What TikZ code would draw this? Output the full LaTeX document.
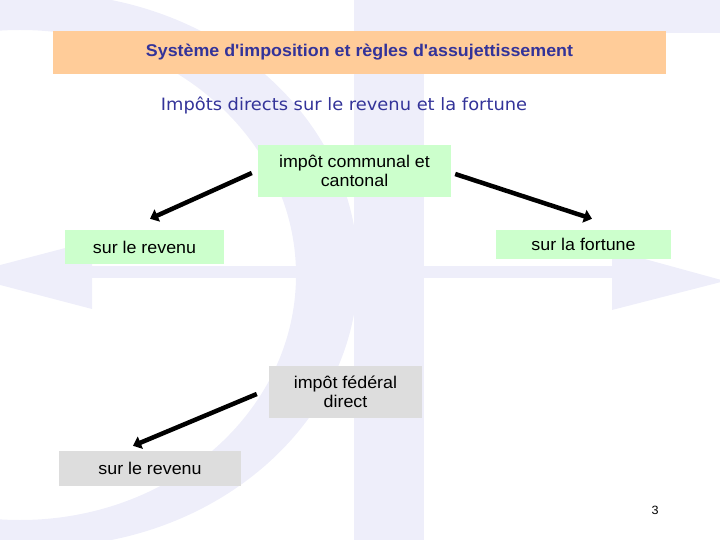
\documentclass[tikz,border=0pt]{standalone}
\usepackage{fontspec}
\setmainfont{Liberation Sans}
\newfontfamily\boxfont[FakeStretch=1.05]{Liberation Sans}
\newfontfamily\subfont[FakeStretch=1.05]{DejaVu Sans}
\usepackage{tikz}
\usetikzlibrary{arrows.meta}
\definecolor{figBg}{RGB}{238,238,250}
\definecolor{figT}{RGB}{51,51,153}
\definecolor{figO}{RGB}{255,204,153}
\definecolor{figG}{RGB}{204,255,204}
\definecolor{figK}{RGB}{221,221,221}
\tikzset{taxbox/.style={inner sep=0pt, align=center, font=\boxfont\fontsize{17}{19}\selectfont},
  greenbox/.style={taxbox, fill=figG},
  greybox/.style={taxbox, fill=figK},
  taxarrow/.style={-{Triangle[length=8pt,width=13pt]}, line width=4.5pt, black}}

\begin{document}
\begin{tikzpicture}[x=1pt,y=-1pt]
\useasboundingbox (0,0) rectangle (720,540);
\clip (0,0) rectangle (720,540);
% faint background logo: bar, crescent and double arrow
\fill[figBg] (354,0) rectangle (424,540);
\fill[figBg] (424,0) rectangle (720,33);
\fill[figBg, even odd rule] (40,270) ellipse [x radius=318, y radius=277]
  (20,275) ellipse [x radius=276, y radius=245];
\fill[figBg] (92,266) rectangle (612,278);
\fill[figBg] (92,241) -- (92,309) -- (-38,275) -- cycle;
\fill[figBg] (612,250) -- (612,310) -- (725,281) -- cycle;
% headings
\node[fill=figO, minimum width=613pt, minimum height=43pt, inner sep=0pt,
  font=\boxfont\fontsize{17}{19}\selectfont\bfseries, text=figT] (title) at (359.5,52.5)
  {Système d'imposition et règles d'assujettissement};
\node[font=\subfont\fontsize{17}{19}\selectfont, text=figT] (sub) at (344,105)
  {Impôts directs sur le revenu et la fortune};
% communal and cantonal tax
\node[greenbox, minimum width=193pt, minimum height=52pt] (cc) at (354.5,171) {impôt communal et\\cantonal};
\node[greenbox, minimum width=159pt, minimum height=34pt] (rev1) at (144.5,247) {sur le revenu};
\node[greenbox, minimum width=175pt, minimum height=29pt] (fort) at (583.5,244.5) {sur la fortune};
% federal tax
\node[greybox, minimum width=153pt, minimum height=52pt] (fed) at (345.5,392) {impôt fédéral\\direct};
\node[greybox, minimum width=182pt, minimum height=35pt] (rev2) at (150,468.5) {sur le revenu};
\node[font=\boxfont\fontsize{12}{14}\selectfont] (page) at (655,510) {3};
% arrows
\draw[taxarrow] ([xshift=-6pt,yshift=-2pt]cc.west) -- ([xshift=5.5pt,yshift=11pt]rev1.north);
\draw[taxarrow] ([xshift=4pt,yshift=-3pt]cc.east) -- ([xshift=8.5pt,yshift=11pt]fort.north);
\draw[taxarrow] ([xshift=-12pt,yshift=-2pt]fed.west) -- ([xshift=-17pt,yshift=5pt]rev2.north);
\end{tikzpicture}
\end{document}
